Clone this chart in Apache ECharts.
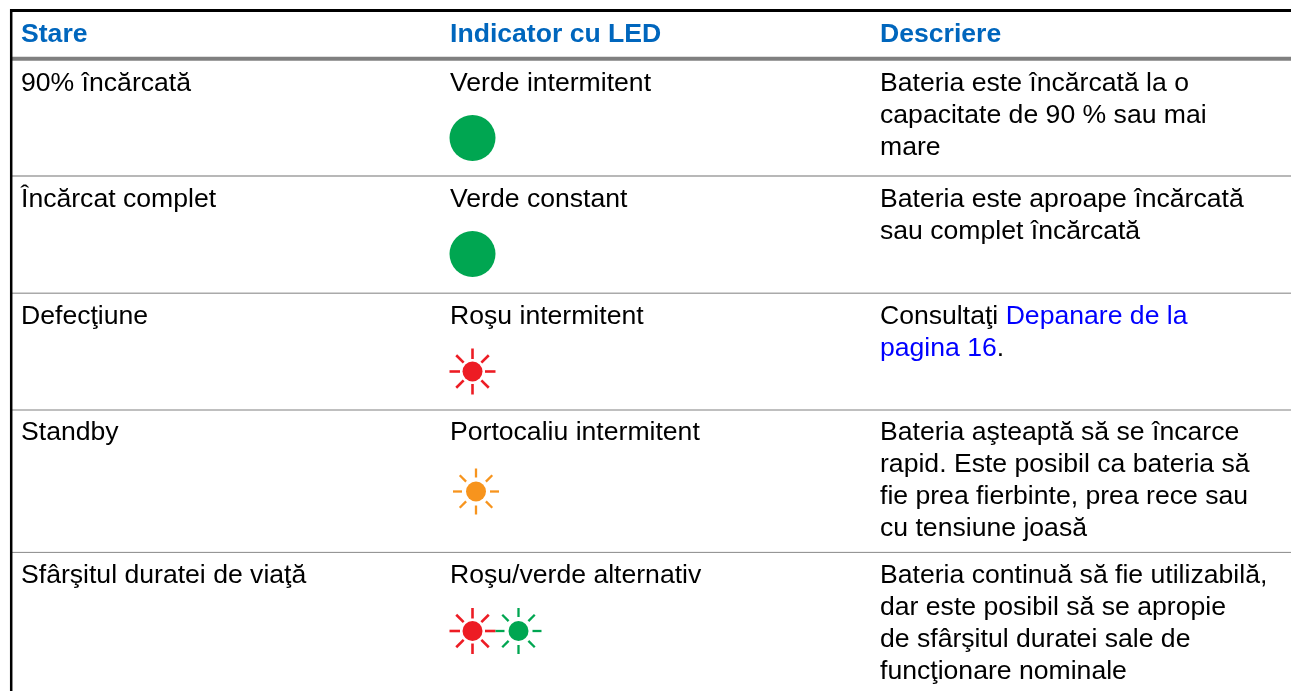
<!DOCTYPE html>
<html>
<head>
<meta charset="utf-8">
<style>html,body{margin:0;padding:0;background:#fff}#main{width:1291px;height:691px}</style>
<script src="https://cdn.jsdelivr.net/npm/echarts@6/dist/echarts.min.js"></script>
</head>
<body>
<div id="main"></div>
<script>
// table content
const headers = ['Stare', 'Indicator cu LED', 'Descriere'];
const states = ['90% încărcată', 'Încărcat complet', 'Defecţiune', 'Standby', 'Sfârşitul duratei de viaţă'];
const indicators = ['Verde intermitent', 'Verde constant', 'Roşu intermitent', 'Portocaliu intermitent', 'Roşu/verde alternativ'];
const descriptions = [
  ['Bateria este încărcată la o', 'capacitate de 90 % sau mai', 'mare'],
  ['Bateria este aproape încărcată', 'sau complet încărcată'],
  ['Consultaţi {link|Depanare de la}', '{link|pagina 16}.'],
  ['Bateria aşteaptă să se încarce', 'rapid. Este posibil ca bateria să', 'fie prea fierbinte, prea rece sau', 'cu tensiune joasă'],
  ['Bateria continuă să fie utilizabilă,', 'dar este posibil să se apropie', 'de sfârşitul duratei sale de', 'funcţionare nominale']
];
// which LEDs each row shows: colour name, and whether it blinks (rays)
const leds = [
  [['green', false]],
  [['green', false]],
  [['red', true]],
  [['orange', true]],
  [['red', true], ['green', true]]
];

// layout of the page, in pixels
const colX = [21, 450, 880];
const headerY = 34.5;
const rowText = [84, 200, 317, 433, 576];
const lineGap = 31.8;
const ledY = [138, 254, 371.5, 491.5, 631];
const ledX = [472.5, 518.5];
const ledColors = { green: '#00a651', red: '#ed1c24', orange: '#f7941d' };

const FONT = '"Liberation Sans", Arial, sans-serif';
const FONT_SIZE = '26.6px ';

const textItems = [];
headers.forEach((t, c) => textItems.push({ value: [colX[c], headerY], text: t, head: true }));
states.forEach((t, r) => {
  textItems.push({ value: [colX[0], rowText[r]], text: t });
  textItems.push({ value: [colX[1], rowText[r]], text: indicators[r] });
  descriptions[r].forEach((line, i) => {
    textItems.push({ value: [colX[2], rowText[r] + i * lineGap], text: line });
  });
});

const ledItems = [];
leds.forEach((list, r) => {
  list.forEach((led, i) => {
    const shiftX = r === 3 ? 3.5 : 0;
    ledItems.push({ value: [ledX[i] + shiftX, ledY[r]], color: ledColors[led[0]], blink: led[1], thin: led[0] !== 'red' });
  });
});

function renderLed(params, api) {
  const it = ledItems[params.dataIndex];
  const p = api.coord(it.value);
  if (!it.blink) {
    return { type: 'circle', shape: { cx: p[0], cy: p[1], r: 23 }, style: { fill: it.color } };
  }
  const children = [{ type: 'circle', shape: { cx: p[0], cy: p[1], r: 10 }, style: { fill: it.color } }];
  for (let k = 0; k < 8; k++) {
    const a = k * Math.PI / 4;
    const inner = it.thin ? 14 : 12.5;
    children.push({
      type: 'line',
      shape: {
        x1: p[0] + inner * Math.cos(a), y1: p[1] + inner * Math.sin(a),
        x2: p[0] + 23 * Math.cos(a), y2: p[1] + 23 * Math.sin(a)
      },
      style: { stroke: it.color, lineWidth: it.thin ? 2.3 : 2.6 }
    });
  }
  return { type: 'group', children };
}

function renderText(params, api) {
  const it = textItems[params.dataIndex];
  const p = api.coord(it.value);
  return {
    type: 'text',
    x: p[0], y: p[1],
    style: {
      text: it.text,
      font: (it.head ? 'bold ' : '') + FONT_SIZE + FONT,
      fill: it.head ? '#0066bd' : '#000',
      verticalAlign: 'middle',
      align: 'left',
      rich: { link: { fill: '#0000ff', font: FONT_SIZE + FONT } }
    }
  };
}

// table rules: [y, colour, width]
const rules = [
  [10.5, '#000', 3],
  [58.7, '#808080', 4],
  [175.9, '#a0a0a0', 1.5],
  [293.2, '#aaaaaa', 1.5],
  [410, '#aaaaaa', 1.5],
  [552.4, '#888888', 1]
];

function renderRule(params, api) {
  const r = rules[params.dataIndex];
  const a = api.coord([11, r[0]]);
  const b = api.coord([1291, r[0]]);
  return {
    type: 'line',
    shape: { x1: a[0], y1: a[1], x2: b[0], y2: b[1] },
    style: { stroke: r[1], lineWidth: r[2] }
  };
}

function renderBorder(params, api) {
  const a = api.coord([11.2, 9]);
  const b = api.coord([11.2, 691]);
  return { type: 'line', shape: { x1: a[0], y1: a[1], x2: b[0], y2: b[1] }, style: { stroke: '#000', lineWidth: 2.5 } };
}

const chart = echarts.init(document.getElementById('main'));
chart.setOption({
  animation: false,
  backgroundColor: '#fff',
  grid: { left: 0, right: 0, top: 0, bottom: 0 },
  xAxis: { type: 'value', min: 0, max: 1291, show: false },
  yAxis: { type: 'value', min: 0, max: 691, inverse: true, show: false },
  series: [
    { type: 'custom', name: 'rules', renderItem: renderRule, data: rules.map(r => [0, r[0]]), silent: true },
    { type: 'custom', name: 'border', renderItem: renderBorder, data: [[11, 9]], silent: true },
    { type: 'custom', name: 'leds', renderItem: renderLed, data: ledItems, silent: true },
    { type: 'custom', name: 'text', renderItem: renderText, data: textItems, silent: true }
  ]
});
</script>
</body>
</html>
